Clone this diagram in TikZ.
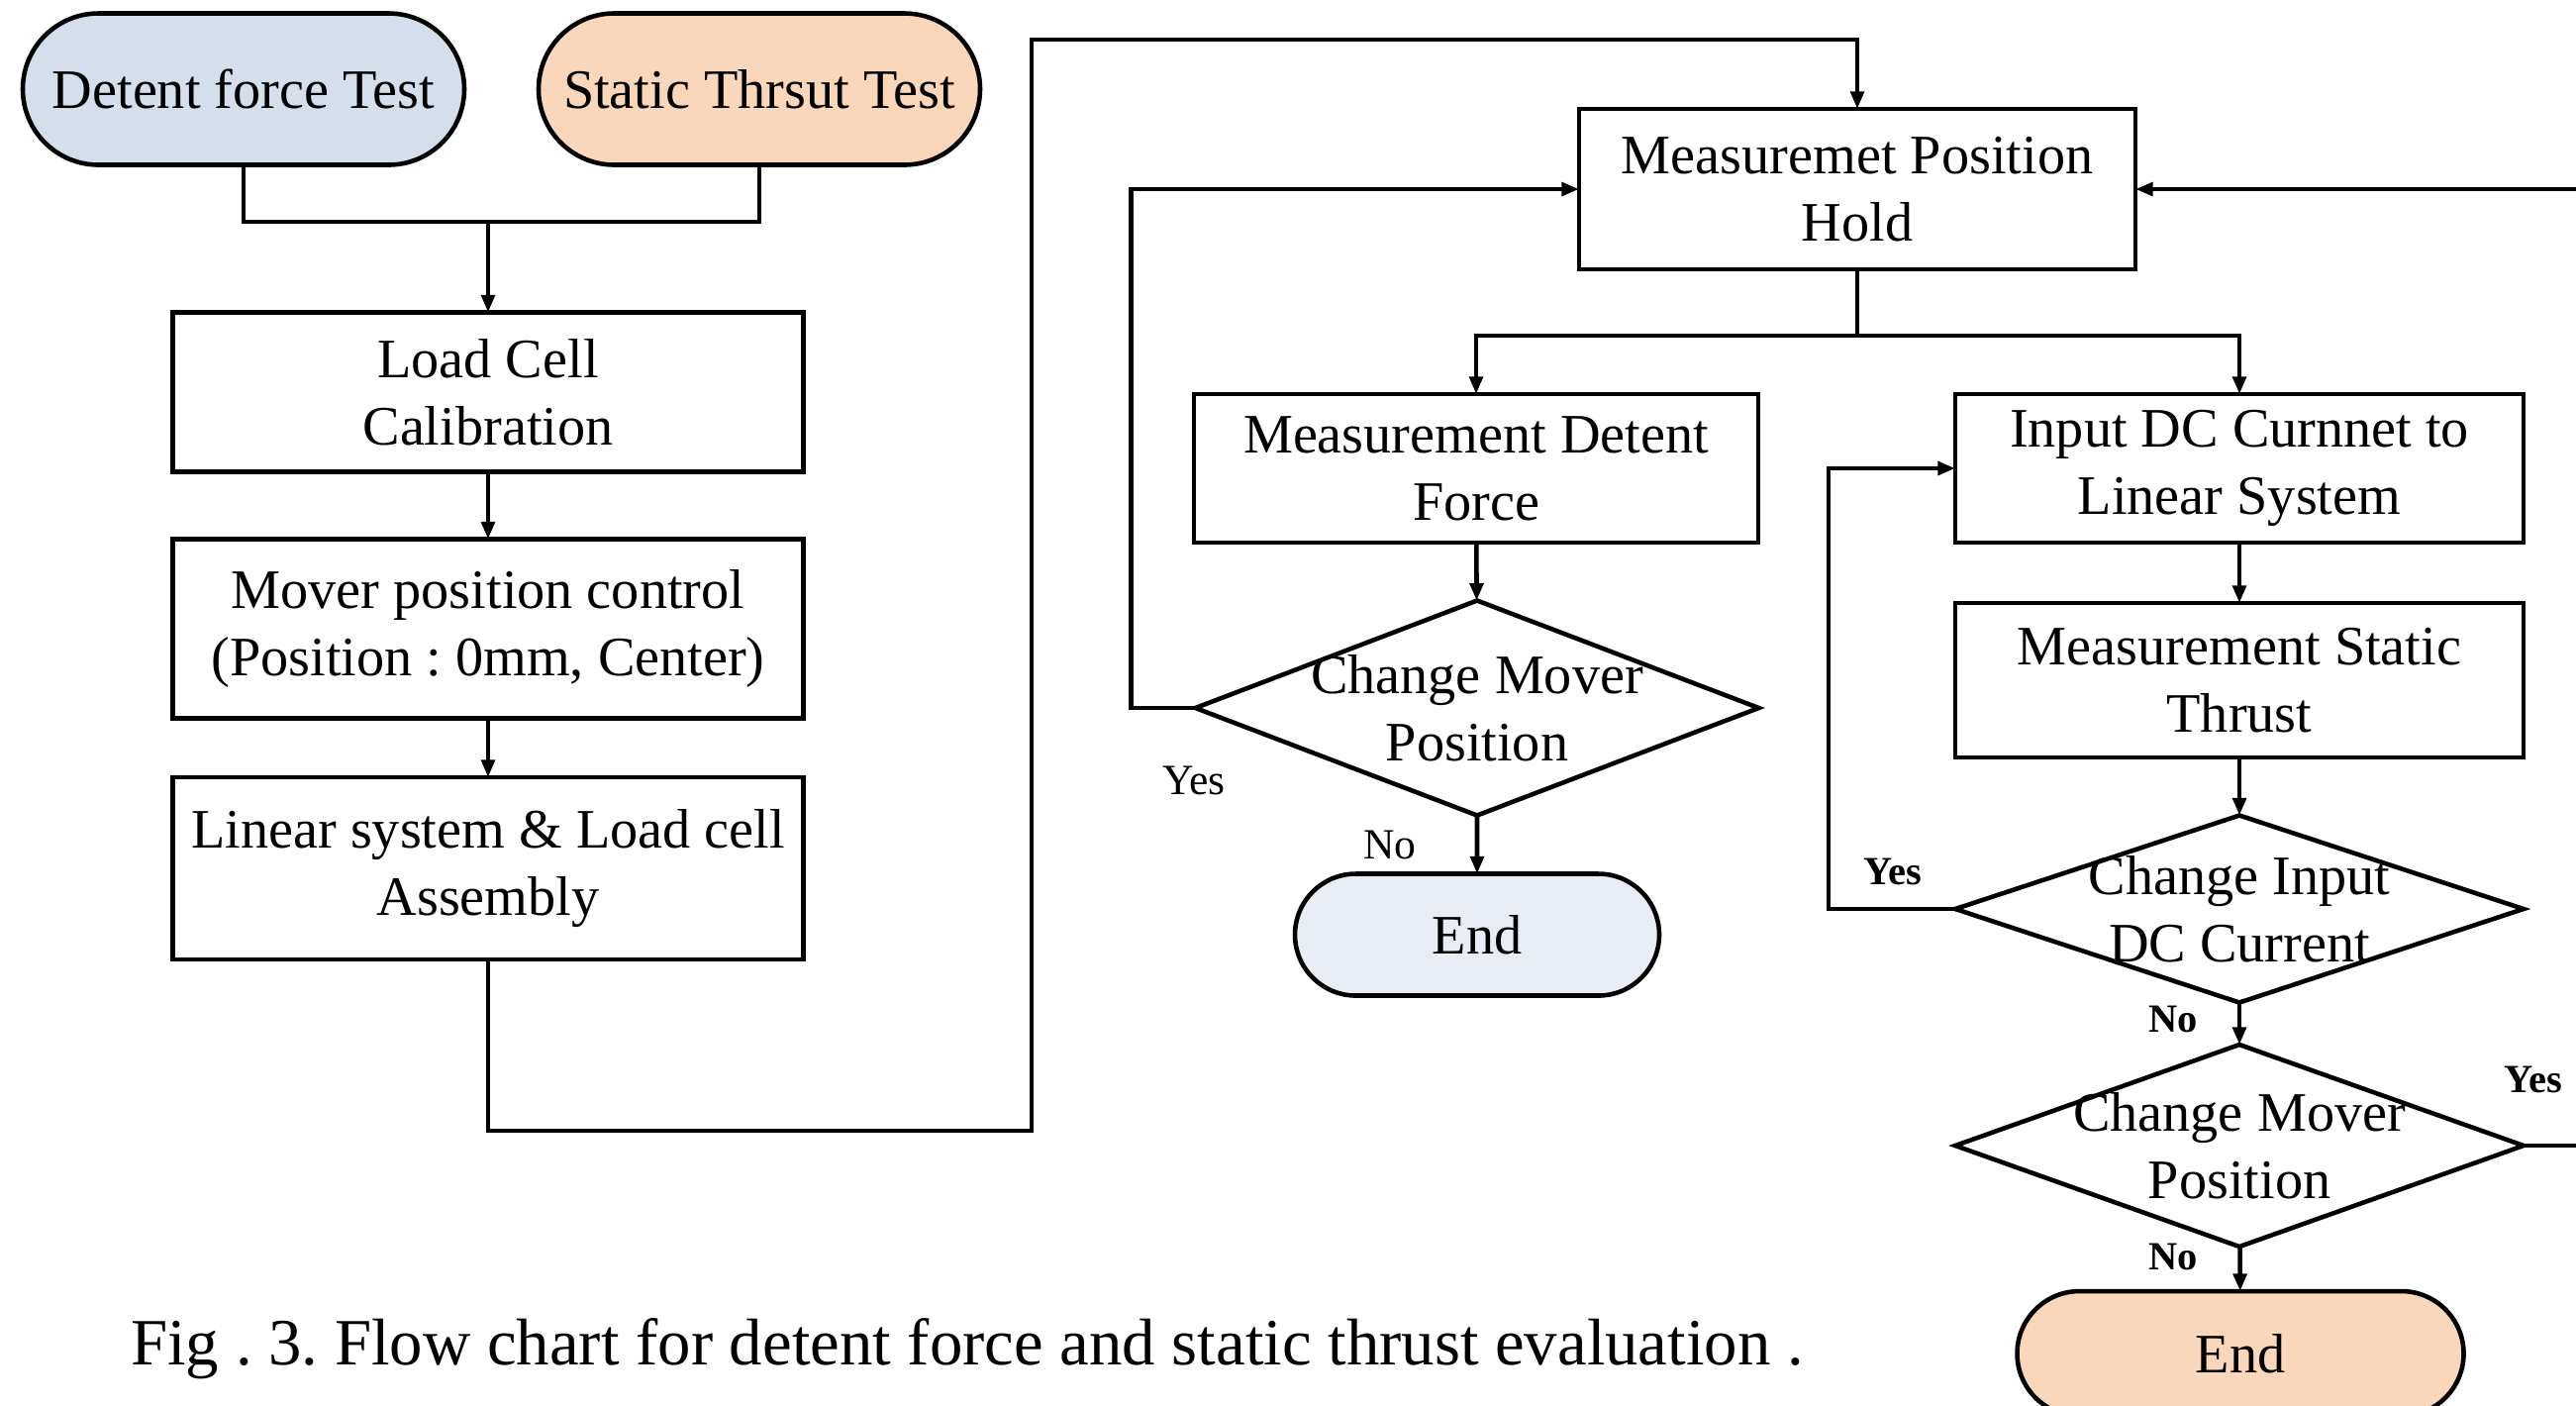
\documentclass[tikz,border=0pt]{standalone}
\usepackage{fontspec}
\setmainfont{Liberation Serif}
\usetikzlibrary{shapes.geometric,shapes.misc,arrows.meta,positioning}
\definecolor{detblue}{RGB}{213,223,235}
\definecolor{endblue}{RGB}{232,237,245}
\definecolor{thrpeach}{RGB}{250,215,186}
\frenchspacing

\begin{document}
\begin{tikzpicture}[
  term/.style={draw,line width=1.3pt,rounded rectangle,inner sep=0pt,outer sep=0pt,
               font=\fontsize{16}{19.4}\selectfont},
  proc/.style={draw,line width=1.3pt,inner sep=0pt,outer sep=0pt,align=center,
               font=\fontsize{16}{19.4}\selectfont},
  dec/.style={draw,line width=1.3pt,diamond,inner sep=0pt,outer sep=0pt},
  dtxt/.style={align=center,inner sep=0pt,font=\fontsize{16}{19.4}\selectfont},
  ln/.style={line width=1.3pt},
  arr/.style={->,>={Triangle[length=5pt,width=3.8pt]},line width=1.3pt},
  yn/.style={font=\fontsize{12.4}{14}\selectfont},
  ynb/.style={font=\fontsize{11.5}{14}\bfseries\selectfont}
]
\useasboundingbox (0,0) rectangle (26.02,-14.19);
\clip (0,0) rectangle (26.02,-14.19);

% start blocks
\node[term,fill=detblue,minimum width=4.46cm,minimum height=1.53cm] (det) at (2.46,-0.90) {Detent force Test};
\node[term,fill=thrpeach,minimum width=4.46cm,minimum height=1.53cm] (sta) at (7.67,-0.90) {Static Thrsut Test};
\coordinate (jn) at (4.93,-2.24);

% preparation
\node[proc,minimum width=6.37cm,minimum height=1.61cm] (cal) at (4.93,-3.96) {Load Cell\\Calibration};
\node[proc,minimum width=6.37cm,minimum height=1.81cm] (mov) at (4.93,-6.35) {Mover position control\\(Position : 0mm, Center)};
\node[proc,minimum width=6.37cm,minimum height=1.84cm] (asm) at (4.93,-8.77) {Linear system \& Load cell\\Assembly};
\coordinate (lo1) at (10.42,-11.42);
\coordinate (up1) at (10.42,-0.40);

% measurement
\node[proc,minimum width=5.62cm,minimum height=1.62cm] (mph) at (18.76,-1.91) {Measuremet Position\\Hold};

% detent force branch
\node[proc,minimum width=5.70cm,minimum height=1.50cm] (mdf) at (14.91,-4.73) {Measurement Detent\\Force};
\node[dec,minimum width=5.69cm,minimum height=2.17cm] (cmp1) at (14.92,-7.15) {};
\node[dtxt] at (cmp1) {Change Mover\\Position};
\node[term,fill=endblue,minimum width=3.68cm,minimum height=1.23cm] (end1) at (14.92,-9.44) {End};

% static thrust branch
\node[proc,minimum width=5.74cm,minimum height=1.50cm] (idc) at (22.62,-4.73) {Input DC Curnnet to\\Linear System};
\node[proc,minimum width=5.74cm,minimum height=1.56cm] (mst) at (22.62,-6.87) {Measurement Static\\Thrust};
\node[dec,minimum width=5.74cm,minimum height=1.89cm] (cic) at (22.62,-9.18) {};
\node[dtxt] at (cic) {Change Input\\DC Current};
\node[dec,minimum width=5.74cm,minimum height=2.04cm] (cmp2) at (22.62,-11.57) {};
\node[dtxt] at (cmp2) {Change Mover\\Position};
\node[term,fill=thrpeach,minimum width=4.51cm,minimum height=1.26cm] (end2) at (22.63,-13.67) {End};

% connectors
\draw[ln] (det.south) |- (jn) -| (sta.south);
\draw[arr] (jn) -- (cal);
\draw[arr] (cal) -- (mov);
\draw[arr] (mov) -- (asm);
\draw[arr] (asm.south) |- (lo1) -- (up1) -| (mph.north);
\draw[arr] (mph.south) -- ++(0,-0.67) -| (mdf.north);
\draw[arr] (mph.south) -- ++(0,-0.67) -| (idc.north);
\draw[arr] (mdf) -- (cmp1);
\draw[arr] (cmp1) -- (end1);
\draw[arr] (cmp1.west) -- ++(-0.65,0) |- (mph.west);
\draw[arr] (idc) -- (mst);
\draw[arr] (mst) -- (cic);
\draw[arr] (cic) -- (cmp2);
\draw[arr] (cic.west) -- ++(-1.28,0) |- (idc.west);
\draw[arr] (cmp2) -- (end2);
\draw[arr] (cmp2.east) -- ++(1.0,0) |- (mph.east);

% yes / no labels
\node[yn] (y1) at (12.06,-7.88) {Yes};
\node[yn] (n1) at (14.04,-8.53) {No};
\node[ynb] (y2) at (19.12,-8.80) {Yes};
\node[ynb] (n2) at (21.95,-10.29) {No};
\node[ynb] (y3) at (25.59,-10.90) {Yes};
\node[ynb] (n3) at (21.95,-12.69) {No};

% caption
\node[font=\fontsize{19}{22}\selectfont] (cap) at (9.77,-13.62) {Fig . 3. Flow chart for detent force and static thrust evaluation .};
\end{tikzpicture}
\end{document}
